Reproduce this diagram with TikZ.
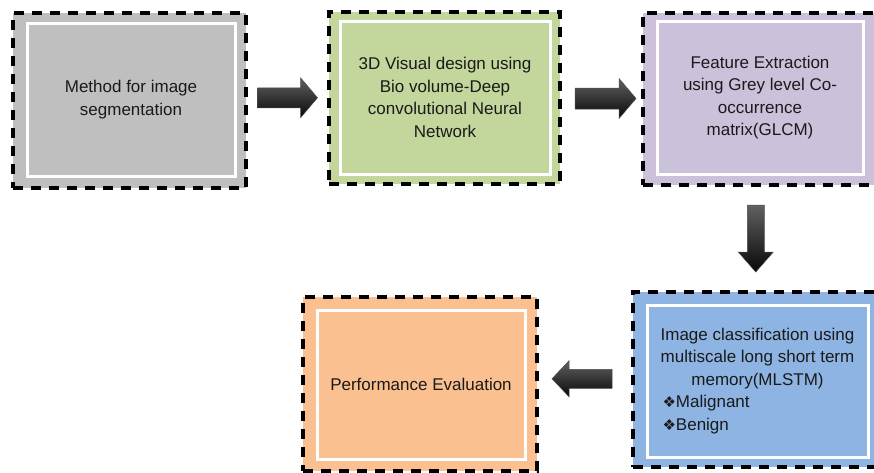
\documentclass[tikz,border=0pt]{standalone}
\usepackage{fontspec}
\setmainfont{Liberation Sans}
\newfontfamily\symfont{DejaVu Sans}
\usetikzlibrary{shadows,calc}
\definecolor{cgray}{HTML}{BFBFBF}
\definecolor{cgreen}{HTML}{C3D69B}
\definecolor{cpurple}{HTML}{CCC1DA}
\definecolor{cblue}{HTML}{8EB4E3}
\definecolor{corange}{HTML}{FAC090}
\definecolor{ctext}{HTML}{1A1A1A}
% #1 centre, #2 rotation, #3 length, #4 head width, #5 shaft width, #6 head length
\newcommand{\blkarrow}[6]{%
  \begin{scope}[shift={#1}, rotate=#2]
    \path[blockarrow]
      ({-#3/2},{-#5/2}) -- ({#3/2-#6},{-#5/2}) -- ({#3/2-#6},{-#4/2}) -- ({#3/2},0)
      -- ({#3/2-#6},{#4/2}) -- ({#3/2-#6},{#5/2}) -- ({-#3/2},{#5/2}) -- cycle;
  \end{scope}}
\begin{document}
\begin{tikzpicture}[x=1pt,y=-1pt,
  outerbox/.style={rectangle, draw=black, line width=3.8pt, dash pattern=on 10pt off 8pt, fill=#1, inner sep=0pt},
  innerbox/.style={rectangle, draw=white, line width=3pt, fill=#1, inner sep=0pt, align=center,
    text=ctext, font=\fontsize{17pt}{22.5pt}\selectfont,
    drop shadow={shadow xshift=1.5pt, shadow yshift=-1.5pt, opacity=0.35, fill=black}},
  blockarrow/.style={top color=black!62, bottom color=black!97, draw=black!70, line width=0.5pt},
  bullet/.style={}
]
\useasboundingbox (0,0) rectangle (874,472);
\clip (0,0) rectangle (874,472);
% outer dashed frames
\node[outerbox=cgray, minimum width=233pt, minimum height=175pt] (o1) at (129.5,100.5) {};
\node[outerbox=cgreen, minimum width=231pt, minimum height=172pt] (o2) at (444.5,98) {};
\node[outerbox=cpurple, minimum width=236pt, minimum height=172pt] (o3) at (761,99) {};
\node[outerbox=cblue, minimum width=249pt, minimum height=175pt] (o4) at (757.5,379.5) {};
\node[outerbox=corange, minimum width=234pt, minimum height=174pt] (o5) at (420,384) {};
% inner boxes with text
\node[innerbox=cgray, minimum width=208pt, minimum height=153pt] (i1) at (131,99.5)
  {Method for image\\segmentation};
\node[innerbox=cgreen, minimum width=210pt, minimum height=153pt] (i2) at (445,97.5)
  {3D Visual design using\\Bio volume-Deep\\convolutional Neural\\Network};
\node[innerbox=cpurple, minimum width=206pt, minimum height=153pt] (i3) at (760,97.5)
  {Feature Extraction\\using Grey  level Co-\\occurrence\\matrix(GLCM)};
\node[innerbox=cblue, minimum width=221pt, minimum height=152pt] (i4) at (757.5,381)
  {Image classification using\\multiscale long short term\\memory(MLSTM)\\
   \makebox[190pt][l]{{\symfont\fontsize{15pt}{15pt}\selectfont ❖}Malignant}\\
   \makebox[190pt][l]{{\symfont\fontsize{15pt}{15pt}\selectfont ❖}Benign}};
\node[innerbox=corange, minimum width=208pt, minimum height=149pt] (i5) at (421,384.5)
  {Performance Evaluation};
% block arrows (connectors between the frames)
\coordinate (c12) at ($(o1.east)!0.5!(o2.west)+(0,-1.5)$);
\coordinate (c23) at ($(o2.east)!0.5!(o3.west)+(4,0)$);
\coordinate (c34) at ($(o3.south)!0.5!(o4.north)+(-3.5,0)$);
\coordinate (c45) at ($(o4.west)!0.5!(o5.east)+(-3,-3)$);
\blkarrow{(c12)}{0}{60}{40}{20}{17}
\blkarrow{(c23)}{0}{61}{40}{21}{17}
\blkarrow{(c34)}{-90}{67}{35}{17}{20}
\blkarrow{(c45)}{180}{60}{36}{19}{17}
\end{tikzpicture}
\end{document}
